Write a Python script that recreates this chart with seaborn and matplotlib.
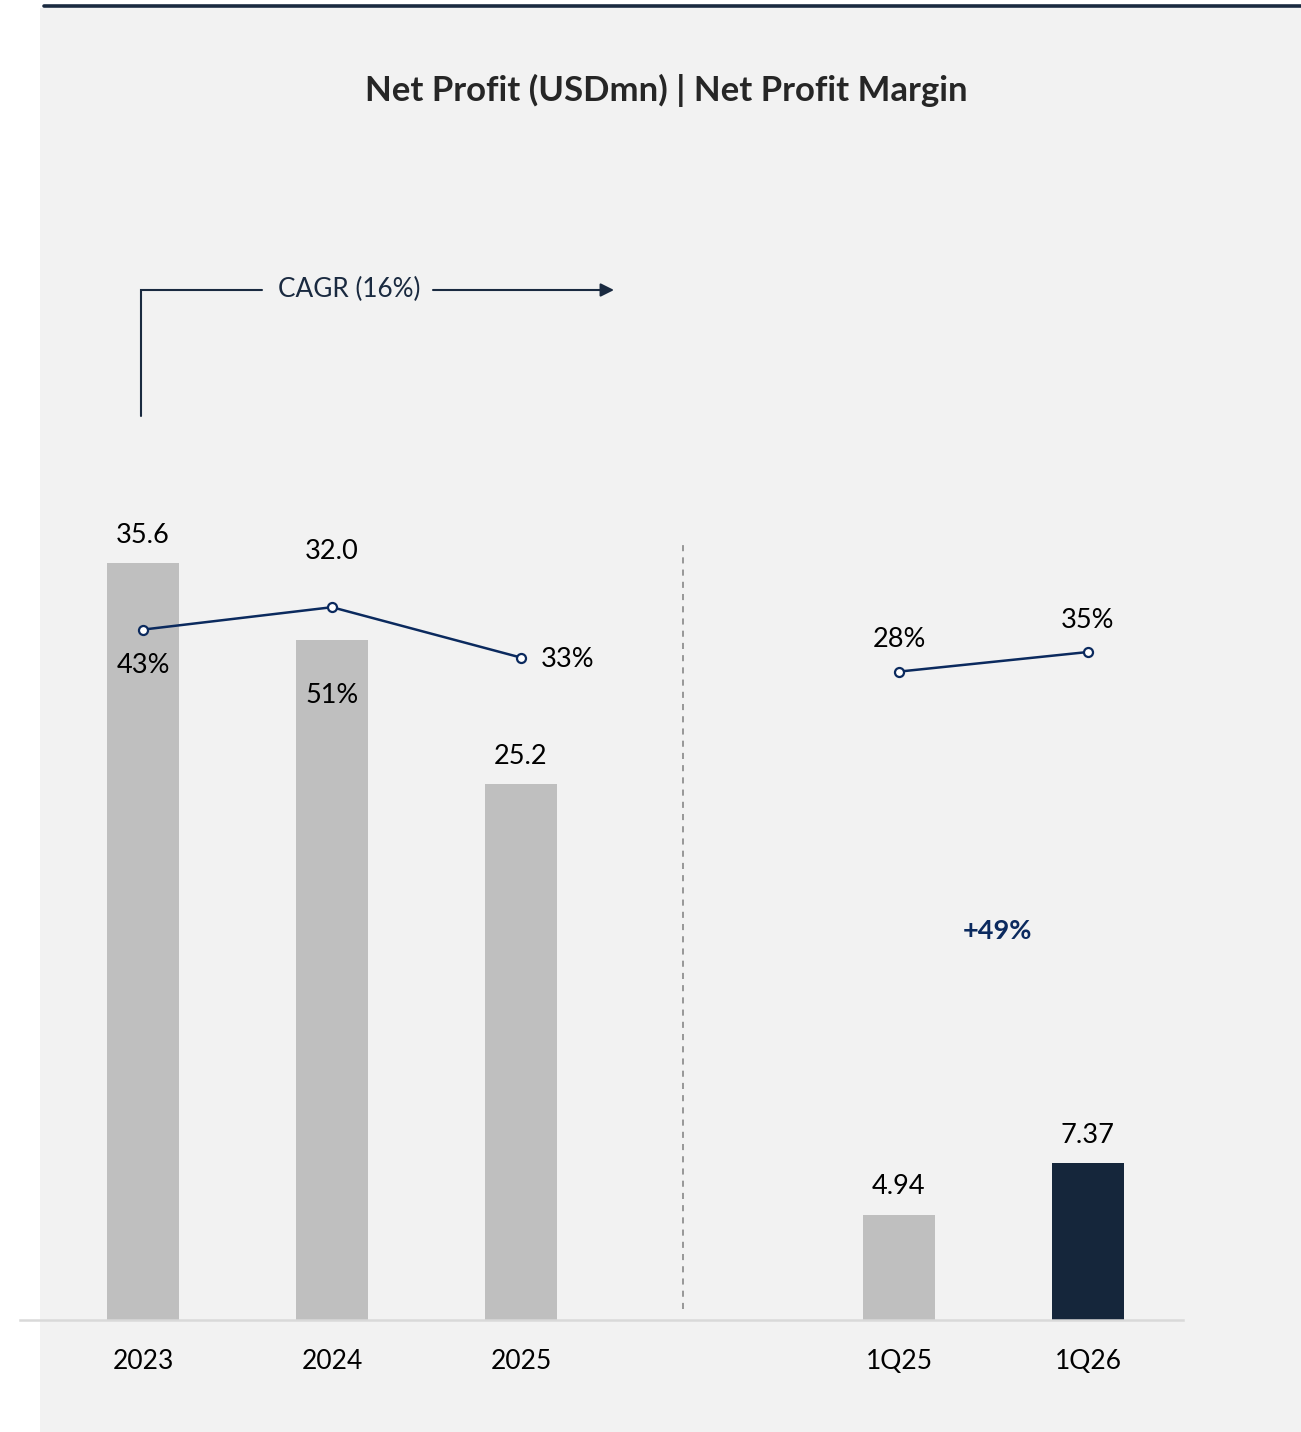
import numpy as np
import pandas as pd
import seaborn as sns
import matplotlib.pyplot as plt
from matplotlib.patches import Rectangle
from matplotlib.lines import Line2D

# data
periods = ['2023', '2024', '2025', '1Q25', '1Q26']
positions = [0, 1, 2, 4, 5]          # slot 3 left empty as a gap
net_profit = [35.6, 32.0, 25.2, 4.94, 7.37]
profit_labels = ['35.6', '32.0', '25.2', '4.94', '7.37']
margin = [43, 51, 33, 28, 35]
margin_labels = ['43%', '51%', '33%', '28%', '35%']
bar_colors = ['#bfbfbf', '#bfbfbf', '#bfbfbf', '#bfbfbf', '#15263b']
growth_label = '+49%'
cagr_label = 'CAGR (16%)'

NAVY = '#0b2a5e'
DARK = '#1a2a40'

sns.set_theme(style='white')
plt.rcParams['font.family'] = ['Lato', 'DejaVu Sans']

W, H = 1301, 1432
fig = plt.figure(figsize=(W / 100, H / 100), dpi=100)
fig.patch.set_facecolor('white')

# grey panel and top rule
fig.patches.append(Rectangle((40 / W, 0), 1 - 40 / W, 1 - 8 / H, transform=fig.transFigure,
                             facecolor='#f2f2f2', edgecolor='none', zorder=-5))
fig.lines.append(Line2D([44 / W, 1], [1 - 6 / H, 1 - 6 / H], transform=fig.transFigure,
                        color=DARK, linewidth=2.6, zorder=-4))

# axes geometry (pixel based)
x0_px, x1_px = 20, 1183
base_px, top_px = 1320, 150
slot_px = 189.0
first_px = 143
bar_scale = 21.26     # px per USDmn
m_scale = 2.8         # px per margin point
m_zero_px = 750
LBL = 19.5

ax = fig.add_axes([x0_px / W, 1 - base_px / H, (x1_px - x0_px) / W, (base_px - top_px) / H])
ax.set_facecolor('none')

df = pd.DataFrame({'pos': positions, 'profit': net_profit, 'period': periods})
sns.barplot(data=df, x='pos', y='profit', hue='period', palette=bar_colors,
            native_scale=True, width=0.386, dodge=False, legend=False, saturation=1,
            linewidth=0, edgecolor='none', ax=ax)

ax.set_xlim((x0_px - first_px) / slot_px, (x1_px - first_px) / slot_px)
ax.set_ylim(0, (base_px - top_px) / bar_scale)
ax.set_xticks(positions)
ax.set_xticklabels(periods, fontsize=19, color='black')
ax.tick_params(axis='x', length=0, pad=21)
ax.set_yticks([])
ax.set_xlabel('')
ax.set_ylabel('')
for s in ['top', 'left', 'right']:
    ax.spines[s].set_visible(False)
ax.spines['bottom'].set_color('#d9d9d9')
ax.spines['bottom'].set_linewidth(1.8)

# bar value labels (2024 label is lifted above the margin line)
lift = [28, 88, 28, 28, 28]
for p, v, t, d in zip(positions, net_profit, profit_labels, lift):
    ax.annotate(t, (p, v), xytext=(0, d * 0.72), textcoords='offset points',
                ha='center', va='center', fontsize=LBL, color='black')

# divider between annual and quarterly
div_x = (683 - first_px) / slot_px
ax.plot([div_x, div_x], [0.5, (base_px - 545) / bar_scale], color='#7f7f7f',
        linestyle=(0, (4, 4)), linewidth=1.1)

# margin line on twin axis
ax2 = ax.twinx()
ax2.set_ylim(-(base_px - m_zero_px) / m_scale, (m_zero_px - top_px) / m_scale)
ax2.set_axis_off()
mdf = pd.DataFrame({'pos': positions, 'margin': margin,
                    'grp': ['annual'] * 3 + ['quarter'] * 2})
for g, sub in mdf.groupby('grp'):
    sns.lineplot(data=sub, x='pos', y='margin', ax=ax2, color=NAVY, linewidth=1.8,
                 marker='o', markersize=6.5, markerfacecolor='white',
                 markeredgecolor=NAVY, markeredgewidth=1.6)

m_off = [(0, -36), (0, -88), (20, -2), (0, 32), (0, 32)]
m_ha = ['center', 'center', 'left', 'center', 'center']
for p, v, t, (dx, dy), ha in zip(positions, margin, margin_labels, m_off, m_ha):
    ax2.annotate(t, (p, v), xytext=(dx * 0.72, dy * 0.72), textcoords='offset points',
                 ha=ha, va='center', fontsize=LBL, color='black')

# growth label
ax.text((997 - first_px) / slot_px, (base_px - 931) / bar_scale, growth_label,
        ha='center', va='center', fontsize=LBL, fontweight='bold', color=NAVY)

# CAGR bracket
def px2d(px, py):
    return (px - first_px) / slot_px, (base_px - py) / bar_scale

vx, vy0 = px2d(141, 416)
_, vy1 = px2d(141, 290)
hx1, _ = px2d(262, 290)
ax.plot([vx, vx, hx1], [vy0, vy1, vy1], color=DARK, linewidth=1.5, solid_joinstyle='miter')
tx, ty = px2d(349, 289)
ax.text(tx, ty, cagr_label, ha='center', va='center', fontsize=18.8, color=DARK)
ax0, _ = px2d(433, 290)
ax1_, _ = px2d(614, 290)
ax.annotate('', xy=(ax1_, vy1), xytext=(ax0, vy1),
            arrowprops=dict(arrowstyle='-|>', color=DARK, lw=1.5, mutation_scale=20,
                            shrinkA=0, shrinkB=0))

fig.text(666 / W, 1 - 90 / H, 'Net Profit (USDmn) | Net Profit Margin',
         ha='center', va='center', fontsize=25, fontweight='bold', color='#262626')

fig.savefig('out.png', dpi=100)
